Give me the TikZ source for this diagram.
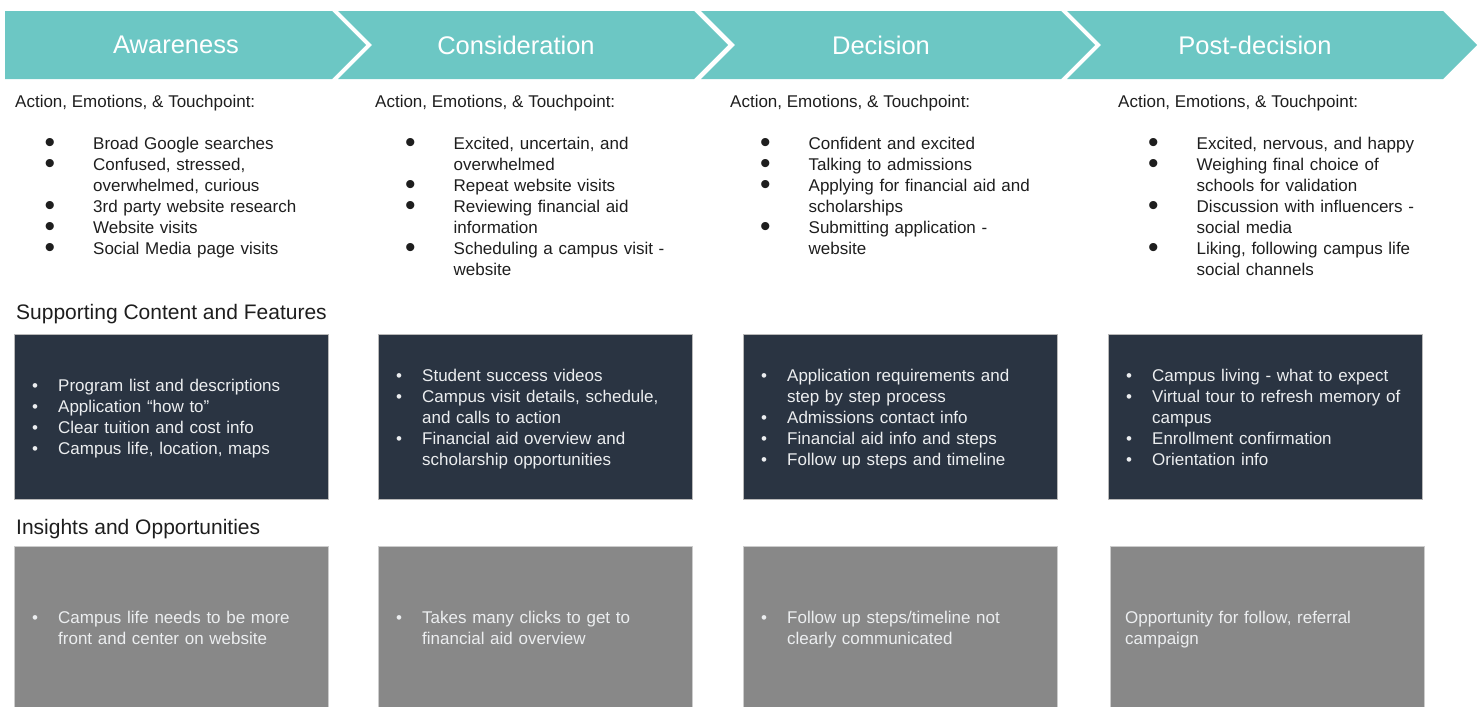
\documentclass[tikz,border=0pt]{standalone}
\usepackage{fontspec}
\setmainfont{Liberation Sans}
\usetikzlibrary{positioning}

\definecolor{jteal}{RGB}{108,199,196}
\definecolor{jdark}{RGB}{42,52,66}
\definecolor{jgray}{RGB}{136,136,136}
\definecolor{jtext}{RGB}{30,30,30}
\definecolor{jlight}{RGB}{236,238,240}

% big black bullet for the touchpoint lists, small one inside the boxes
\newcommand{\tpitem}[1]{\par\leftskip=48.5pt\noindent\hspace*{-48.5pt}\strut\makebox[48.5pt][l]{\raisebox{-3pt}{\fontsize{30}{0}\selectfont\textbullet}}#1\strut\par}
\newcommand{\bxitem}[1]{\par\leftskip=26pt\noindent\hspace*{-26pt}\strut\makebox[26pt][l]{\textbullet}#1\strut\par}

\begin{document}
\begin{tikzpicture}[x=1pt,y=-1pt,
  stagelbl/.style={text=white,font=\fontsize{25.5}{30}\selectfont},
  colhead/.style={anchor=base west,inner sep=0,text=jtext,font=\fontsize{17}{21}\selectfont},
  sechead/.style={anchor=base west,inner sep=0,text=jtext,font=\fontsize{21}{25}\selectfont},
  tplist/.style={anchor=north west,inner sep=0,text width=330pt,align=left,text=jtext,font=\fontsize{17}{21}\selectfont},
  featbox/.style={anchor=north west,fill=jdark,draw=gray!55,line width=.8pt,minimum width=314pt,minimum height=165pt,inner sep=0},
  insbox/.style={anchor=north west,fill=jgray,draw=gray!40,line width=.8pt,minimum width=314pt,minimum height=166pt,inner sep=0},
  boxtxt/.style={inner sep=0,text width=330pt,align=left,text=jlight,font=\fontsize{17}{21}\selectfont}]
\useasboundingbox (0,0) rectangle (1484,707);
\clip (0,0) rectangle (1484,707);

% stage chevrons
\fill[jteal] (5,11) -- (332,11) -- (366,45) -- (332,79) -- (5,79) -- cycle;
\foreach \a/\b in {338/694,701/1061,1067/1443}
  \fill[jteal] (\a,11) -- (\b,11) -- ({\b+34},45) -- (\b,79) -- (\a,79) -- ({\a+34},45) -- cycle;
\node[stagelbl] (aware) at (176,45) {Awareness};
\node[stagelbl] (consid) at (516,45) {Consideration};
\node[stagelbl] (decis) at (881,45) {Decision};
\node[stagelbl] (postdec) at (1255,45) {Post-decision};

% action, emotions and touchpoints
\node[colhead] (tphead1) at (15,107) {Action, Emotions, \& Touchpoint:};
\node[colhead] (tphead2) at (375,107) {Action, Emotions, \& Touchpoint:};
\node[colhead] (tphead3) at (730,107) {Action, Emotions, \& Touchpoint:};
\node[colhead] (tphead4) at (1118,107) {Action, Emotions, \& Touchpoint:};

\node[tplist] (tp1) at (44.5,128.3) {\tpitem{Broad Google searches}\tpitem{Confused, stressed,\\overwhelmed, curious}\tpitem{3rd party website research}\tpitem{Website visits}\tpitem{Social Media page visits}};
\node[tplist] (tp2) at (405,128.3) {\tpitem{Excited, uncertain, and\\overwhelmed}\tpitem{Repeat website visits}\tpitem{Reviewing financial aid\\information}\tpitem{Scheduling a campus visit -\\website}};
\node[tplist] (tp3) at (760,128.3) {\tpitem{Confident and excited}\tpitem{Talking to admissions}\tpitem{Applying for financial aid and\\scholarships}\tpitem{Submitting application -\\website}};
\node[tplist] (tp4) at (1148,128.3) {\tpitem{Excited, nervous, and happy}\tpitem{Weighing final choice of\\schools for validation}\tpitem{Discussion with influencers -\\social media}\tpitem{Liking, following campus life\\social channels}};

% supporting content and features
\node[sechead] (feathead) at (16,319.5) {Supporting Content and Features};
\node[featbox] (feat1) at (14,334) {};
\node[featbox] (feat2) at (378,334) {};
\node[featbox] (feat3) at (743,334) {};
\node[featbox] (feat4) at (1108,334) {};
\node[boxtxt,right=18pt of feat1.west,yshift=1pt] (feattxt1) {\bxitem{Program list and descriptions}\bxitem{Application “how to”}\bxitem{Clear tuition and cost info}\bxitem{Campus life, location, maps}};
\node[boxtxt,right=18pt of feat2.west,yshift=1pt] (feattxt2) {\bxitem{Student success videos}\bxitem{Campus visit details, schedule,\\and calls to action}\bxitem{Financial aid overview and\\scholarship opportunities}};
\node[boxtxt,right=18pt of feat3.west,yshift=1pt] (feattxt3) {\bxitem{Application requirements and\\step by step process}\bxitem{Admissions contact info}\bxitem{Financial aid info and steps}\bxitem{Follow up steps and timeline}};
\node[boxtxt,right=18pt of feat4.west,yshift=1pt] (feattxt4) {\bxitem{Campus living - what to expect}\bxitem{Virtual tour to refresh memory of\\campus}\bxitem{Enrollment confirmation}\bxitem{Orientation info}};

% insights and opportunities
\node[sechead] (inshead) at (16,534.5) {Insights and Opportunities};
\node[insbox] (ins1) at (14,546) {};
\node[insbox] (ins2) at (378,546) {};
\node[insbox] (ins3) at (743,546) {};
\node[insbox] (ins4) at (1110,546) {};
\node[boxtxt,right=18pt of ins1.west,yshift=3pt] (instxt1) {\bxitem{Campus life needs to be more\\front and center on website}};
\node[boxtxt,right=18pt of ins2.west,yshift=3pt] (instxt2) {\bxitem{Takes many clicks to get to\\financial aid overview}};
\node[boxtxt,right=18pt of ins3.west,yshift=3pt] (instxt3) {\bxitem{Follow up steps/timeline not\\clearly communicated}};
\node[boxtxt,right=15pt of ins4.west] (instxt4) {\strut Opportunity for follow, referral\\campaign\strut};
\end{tikzpicture}
\end{document}
